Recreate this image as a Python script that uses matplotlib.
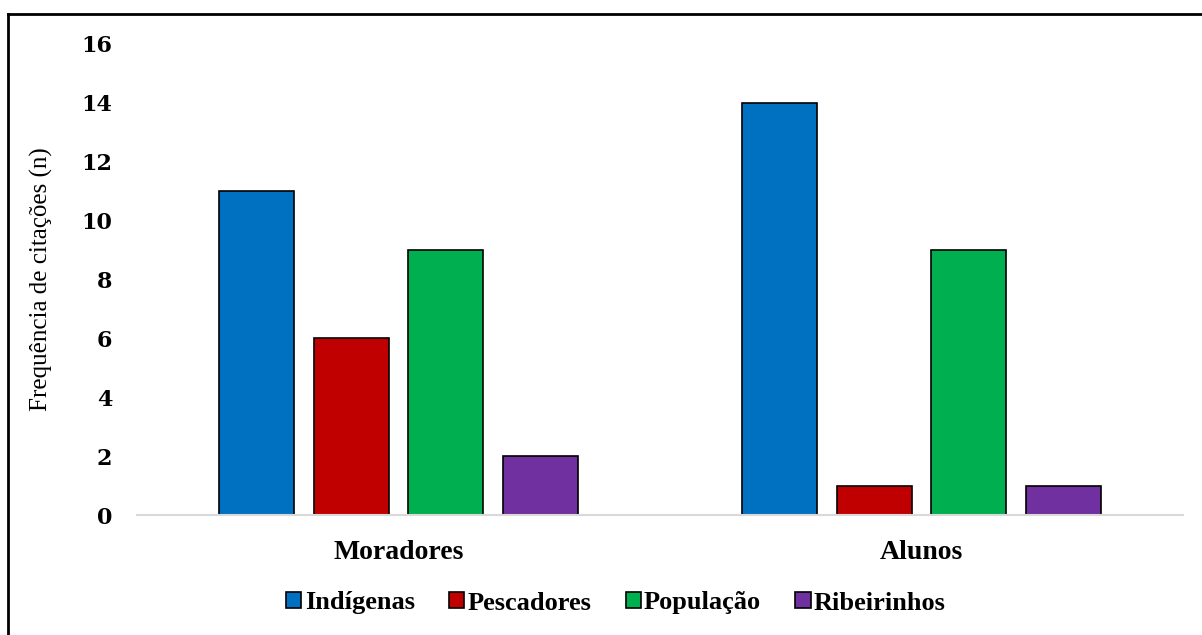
import numpy as np
import matplotlib
matplotlib.use("Agg")
import matplotlib.pyplot as plt
from matplotlib.lines import Line2D
from matplotlib.patches import Patch

groups = ["Moradores", "Alunos"]
series = ["Indígenas", "Pescadores", "População", "Ribeirinhos"]
values = {
    "Indígenas": [11, 14],
    "Pescadores": [6, 1],
    "População": [9, 9],
    "Ribeirinhos": [2, 1],
}
colors = ["#0070C0", "#C00000", "#00B050", "#7030A0"]
yticks = [0, 2, 4, 6, 8, 10, 12, 14, 16]

W, H = 1202, 635
fig = plt.figure(figsize=(W / 100, H / 100), dpi=100)
ax = fig.add_axes([137 / W, 1 - 515 / H, (1183 - 137) / W, (515 - 44) / H])

x = np.arange(len(groups))
bw = 0.1434
step = 0.1816
for i, (name, c) in enumerate(zip(series, colors)):
    off = (i - 1.5) * step
    ax.bar(x + off, values[name], width=bw, color=c, edgecolor="black",
           linewidth=1.2, zorder=3)

ax.set_xlim(-0.5, 1.5)
ax.set_ylim(0, 16)
ax.set_yticks(yticks)
ax.set_yticklabels([str(v) for v in yticks], fontfamily="DejaVu Serif",
                   fontweight="bold", fontsize=16)
ax.set_xticks(x)
ax.set_xticklabels(groups, fontfamily="Liberation Serif", fontweight="bold",
                   fontsize=20)
ax.tick_params(axis="y", length=0, pad=18)
ax.tick_params(axis="x", length=0, pad=18)
for s in ["top", "right", "left"]:
    ax.spines[s].set_visible(False)
ax.spines["bottom"].set_color("#D9D9D9")
ax.spines["bottom"].set_linewidth(1.5)
ax.spines["bottom"].set_zorder(4)

ax.set_ylabel("Frequência de citações (n)", fontfamily="Liberation Serif",
              fontsize=18, labelpad=20)

handles = [Patch(facecolor=c, edgecolor="black", linewidth=1.2) for c in colors]
leg = fig.legend(handles, series, loc="center", bbox_to_anchor=(616 / W, 1 - 603 / H),
                 ncol=4, frameon=False, handlelength=0.58, handleheight=0.58,
                 handletextpad=0.12, columnspacing=1.3,
                 prop={"family": "Liberation Serif", "weight": "bold", "size": 19})

# outer frame (left and top edges)
fig.add_artist(Line2D([8 / W, 8 / W], [0, 1 - 14 / H], color="black", linewidth=2,
                      transform=fig.transFigure))
fig.add_artist(Line2D([8 / W, 1], [1 - 14 / H, 1 - 14 / H], color="black", linewidth=2,
                      transform=fig.transFigure))

fig.savefig("out.png", dpi=100)
